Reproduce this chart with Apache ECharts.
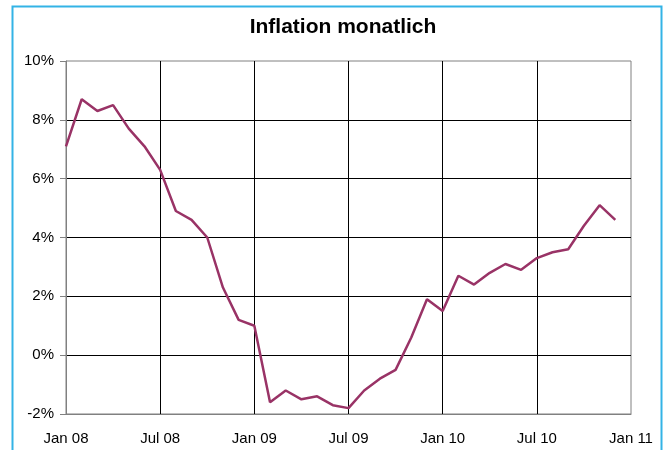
<!DOCTYPE html>
<html>
<head>
<meta charset="utf-8">
<script src="https://cdn.jsdelivr.net/npm/echarts@6/dist/echarts.min.js"></script>
<style>
html,body{margin:0;padding:0;background:#fff;}
#chart{width:663px;height:450px;}
</style>
</head>
<body>
<div id="chart"></div>
<script>
const months = ["Jan 08","Feb 08","Mar 08","Apr 08","May 08","Jun 08","Jul 08","Aug 08","Sep 08","Oct 08","Nov 08","Dec 08",
"Jan 09","Feb 09","Mar 09","Apr 09","May 09","Jun 09","Jul 09","Aug 09","Sep 09","Oct 09","Nov 09","Dec 09",
"Jan 10","Feb 10","Mar 10","Apr 10","May 10","Jun 10","Jul 10","Aug 10","Sep 10","Oct 10","Nov 10","Dec 10","Jan 11"];
const inflation = [7.1,8.7,8.3,8.5,7.7,7.1,6.3,4.9,4.6,4.0,2.3,1.2,
1.0,-1.6,-1.2,-1.5,-1.4,-1.7,-1.8,-1.2,-0.8,-0.5,0.6,1.9,
1.5,2.7,2.4,2.8,3.1,2.9,3.3,3.5,3.6,4.4,5.1,4.6,null];
const yTicks = [-2,0,2,4,6,8,10];
const chartTitle = "Inflation monatlich";

const chart = echarts.init(document.getElementById('chart'), null, {renderer:'canvas'});
chart.setOption({
  animation:false,
  backgroundColor:'#ffffff',
  title:{text:chartTitle,left:338,textAlign:'center',top:12,textStyle:{fontFamily:'Liberation Sans, Arial',fontWeight:'bold',fontSize:21,color:'#000'}},
  graphic:[{type:'rect',shape:{x:12.5,y:6.5,width:649,height:470},style:{fill:null,stroke:'#33b3e6',lineWidth:2},silent:true,z:100}],
  grid:{left:66,top:61,right:32,bottom:36,show:true,borderColor:'#808080',borderWidth:1,backgroundColor:'transparent'},
  xAxis:{type:'category',data:months,boundaryGap:false,
    axisLine:{show:true,onZero:false,lineStyle:{color:'#808080',width:1}},
    axisTick:{show:false},
    axisLabel:{interval:function(i){return i%6===0;},color:'#000',fontFamily:'Liberation Sans, Arial',fontSize:15,margin:17},
    splitLine:{show:true,interval:function(i){return i%6===0 && i!==0 && i!==36;},lineStyle:{color:'#000',width:1}}
  },
  yAxis:{type:'value',min:yTicks[0],max:yTicks[yTicks.length-1],interval:2,
    axisLine:{show:true,lineStyle:{color:'#808080',width:1}},
    axisTick:{show:true,length:6,lineStyle:{color:'#808080'}},
    axisLabel:{formatter:function(v){return v+'%';},color:'#000',fontFamily:'Liberation Sans, Arial',fontSize:15,margin:12},
    splitLine:{show:true,showMinLine:false,showMaxLine:false,lineStyle:{color:'#000',width:1}}
  },
  series:[{type:'line',data:inflation,symbol:'none',lineStyle:{color:'#993366',width:2.5},connectNulls:false}]
});
</script>
</body>
</html>
